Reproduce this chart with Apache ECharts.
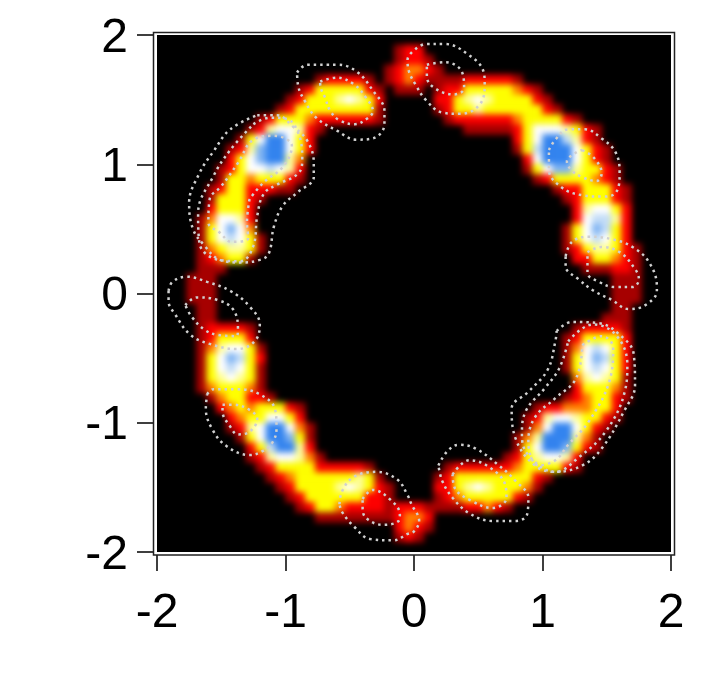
<!DOCTYPE html>
<html>
<head>
<meta charset="utf-8">
<script src="https://cdn.jsdelivr.net/npm/echarts@6/dist/echarts.min.js"></script>
<style>
html,body{margin:0;padding:0;background:#fff;}
#main{width:722px;height:697px;}
</style>
</head>
<body>
<div id="main"></div>
<script>
// density levels, top row first (0 black ... 9 blue)
var densityRows = [
"00000000000000000000000000 00000000000000000000000000",
"00000000000000000000000012 20000000000000000000000000",
"00000000000000000000000012 21000000000000000000000000",
"00000000000000000000000123 32100000000000000000000000",
"00000000000000001222210123 21111222221000000000000000",
"00000000000000124444421011 10122444443210000000000000",
"00000000000001244456542000 00224565444421000000000000",
"00000000000012444444441000 00124454444442100000000000",
"00000000001244432222221000 00012222223444421000000000",
"00000000012566521000000000 00000111112466654210000000",
"00000000146996420000000000 00000000002469975210000000",
"00000001258996420000000000 00000000001479996421000000",
"00000002468995300000000000 00000000000269996421000000",
"00000012466765200000000000 00000000000146885442100000",
"00000014434442100000000000 00000000000012444432100000",
"00000124422211000000000000 00000000000000122444210000",
"00000144421000000000000000 00000000000000012444210000",
"00000244420000000000000000 00000000000000002566420000",
"00001366520000000000000000 00000000000000002677520000",
"00001468630000000000000000 00000000000000014687420000",
"00001467641000000000000000 00000000000000014676420000",
"00001345541000000000000000 00000000000000012455421000",
"00001234410000000000000000 00000000000000002244321000",
"00001110000000000000000000 00000000000000000111221000",
"00011100000000000000000000 00000000000000000000111000",
"00011100000000000000000000 00000000000000000000111000",
"00011100000000000000000000 00000000000000000000111000",
"00001100000000000000000000 00000000000000000000110000",
"00001100000000000000000000 00000000000000000001110000",
"00001222210000000000000000 00000000000000001222210000",
"00001244420000000000000000 00000000000000012444420000",
"00001356641000000000000000 00000000000000013676420000",
"00001468742000000000000000 00000000000000014687420000",
"00001467641000000000000000 00000000000000014676420000",
"00001456541000000000000000 00000000000000003565410000",
"00001344431000000000000000 00000000000000002444310000",
"00000134422100000000000000 00000000000000012344210000",
"00000023434442100000000000 00000000000012233344200000",
"00000002344664200000000000 00000000000125665442100000",
"00000001256996310000000000 00000000000136996421000000",
"00000000146998410000000000 00000000001359995310000000",
"00000000024799520000000000 00000000001469984210000000",
"00000000012566531000000000 00000000012456652000000000",
"00000000001244442222210000 00012222223444421000000000",
"00000000000123444444541000 00124444444421000000000000",
"00000000000012444456542100 00224565444310000000000000",
"00000000000001244444422100 00123444442100000000000000",
"00000000000000124432222122 21111223210000000000000000",
"00000000000000001111111123 32000000000000000000000000",
"00000000000000000000000023 21000000000000000000000000",
"00000000000000000000000012 10000000000000000000000000",
"00000000000000000000000000 00000000000000000000000000"
];
var levelColors = ['#000000','#a80000','#ff0000','#ff8000','#ffff00','#ffff99','#ffffff','#c4ddf7','#80b4f3','#3384f0'];

// dotted contour loops, in data units
var topLeftOuter = [[-.91,1.71],[-.83,1.77],[-.60,1.77],[-.45,1.72],[-.32,1.57],[-.23,1.41],[-.23,1.31],[-.32,1.20],[-.45,1.19],[-.60,1.26],[-.76,1.36],[-.85,1.49],[-.90,1.60]];
var topLeftInner = [[-.73,1.64],[-.60,1.67],[-.47,1.62],[-.37,1.51],[-.32,1.41],[-.37,1.35],[-.46,1.31],[-.58,1.34],[-.65,1.41],[-.69,1.51],[-.73,1.62]];
var leftOuter = [[-1.22,1.38],[-1.07,1.38],[-.94,1.29],[-.83,1.18],[-.78,1.01],[-.78,.90],[-.91,.78],[-1.02,.68],[-1.09,.52],[-1.13,.31],[-1.20,.26],[-1.35,.24],[-1.51,.26],[-1.63,.37],[-1.72,.50],[-1.75,.70],[-1.67,.93],[-1.56,1.10],[-1.43,1.27]];
var leftMiddle = [[-1.25,1.31],[-1.12,1.36],[-.99,1.35],[-.90,1.24],[-.87,1.04],[-.90,.93],[-1.07,.84],[-1.17,.77],[-1.22,.60],[-1.25,.37],[-1.35,.25],[-1.52,.26],[-1.67,.39],[-1.68,.62],[-1.56,.91],[-1.43,1.11]];
var leftInner = [[-1.28,.73],[-1.30,.55],[-1.29,.43],[-1.42,.40],[-1.51,.47],[-1.60,.55],[-1.59,.73],[-1.50,.83],[-1.37,1.01],[-1.25,1.19],[-1.09,1.22],[-.95,1.14],[-1.02,.98],[-1.17,.86]];
var topOuter = [[.01,1.89],[.09,1.93],[.24,1.93],[.42,1.85],[.54,1.72],[.55,1.62],[.51,1.46],[.36,1.39],[.22,1.40],[.09,1.50],[.01,1.62],[-.04,1.72],[-.05,1.81]];
var topInner = [[.10,1.77],[.24,1.79],[.37,1.72],[.39,1.59],[.31,1.54],[.16,1.59],[.10,1.68]];
var upperRightOuter = [[1.05,1.11],[1.10,1.19],[1.20,1.27],[1.33,1.27],[1.46,1.20],[1.57,1.09],[1.60,.93],[1.57,.78],[1.46,.75],[1.31,.76],[1.15,.82],[1.05,.96]];
var upperRightInner = [[1.31,1.11],[1.40,1.05],[1.46,.93],[1.42,.87],[1.31,.90],[1.23,.95],[1.19,1.02],[1.26,1.09]];
var rightOuter = [[1.18,.29],[1.23,.40],[1.36,.44],[1.54,.42],[1.70,.36],[1.83,.24],[1.89,.05],[1.89,.02],[1.80,-.09],[1.67,-.12],[1.54,-.05],[1.40,.02],[1.28,.11],[1.18,.21]];
var rightInner = [[1.35,.32],[1.46,.36],[1.60,.32],[1.72,.19],[1.75,.11],[1.70,.05],[1.56,.05],[1.44,.09],[1.35,.16]];
var farLeftOuter = [[-1.91,.02],[-1.88,.09],[-1.77,.13],[-1.61,.09],[-1.43,.02],[-1.28,-.10],[-1.20,-.24],[-1.24,-.37],[-1.38,-.43],[-1.59,-.39],[-1.74,-.32],[-1.86,-.16],[-1.91,-.06]];
var farLeftInner = [[-1.78,-.09],[-1.69,-.03],[-1.53,-.05],[-1.41,-.12],[-1.37,-.27],[-1.38,-.33],[-1.53,-.32],[-1.63,-.28],[-1.73,-.18]];
var lowerLeftOuter = [[-1.61,-.78],[-1.56,-.74],[-1.38,-.74],[-1.20,-.78],[-1.08,-.90],[-1.07,-1.04],[-1.10,-1.15],[-1.18,-1.22],[-1.28,-1.25],[-1.46,-1.18],[-1.57,-1.05],[-1.62,-.89]];
var lowerLeftInner = [[-1.49,-.86],[-1.41,-.86],[-1.28,-.90],[-1.22,-.97],[-1.28,-1.07],[-1.37,-1.09],[-1.43,-1.03],[-1.49,-.91]];
var bottomOuter = [[-.58,-1.63],[-.56,-1.53],[-.47,-1.42],[-.29,-1.38],[-.13,-1.44],[-.05,-1.56],[-.02,-1.63],[.04,-1.76],[0,-1.84],[-.05,-1.86],[-.16,-1.91],[-.34,-1.90],[-.47,-1.80],[-.56,-1.69]];
var bottomInner = [[-.40,-1.59],[-.32,-1.52],[-.19,-1.59],[-.11,-1.71],[-.12,-1.76],[-.24,-1.79],[-.37,-1.74],[-.40,-1.66]];
var lowerRightOuter = [[1.11,-.29],[1.23,-.22],[1.44,-.23],[1.59,-.31],[1.71,-.47],[1.72,-.71],[1.64,-.90],[1.46,-1.20],[1.31,-1.33],[1.10,-1.38],[.94,-1.33],[.79,-1.12],[.76,-.89],[.89,-.76],[1.04,-.59],[1.10,-.37]];
var lowerRightMiddle = [[1.20,-.37],[1.39,-.24],[1.57,-.32],[1.66,-.55],[1.64,-.76],[1.49,-1.07],[1.28,-1.27],[1.10,-1.38],[.89,-1.25],[.84,-1.09],[.87,-.91],[1.02,-.73],[1.13,-.58]];
var lowerRightInner = [[1.31,-.40],[1.46,-.33],[1.55,-.42],[1.52,-.68],[1.36,-.99],[1.20,-1.17],[1.10,-1.29],[.97,-1.33],[.89,-1.15],[.94,-.96],[1.10,-.81],[1.26,-.66]];
var bottomRightOuter = [[.19,-1.33],[.26,-1.22],[.35,-1.17],[.48,-1.20],[.66,-1.33],[.79,-1.45],[.89,-1.58],[.88,-1.71],[.79,-1.76],[.61,-1.76],[.43,-1.70],[.30,-1.58],[.22,-1.45]];
var bottomRightInner = [[.30,-1.40],[.43,-1.29],[.58,-1.34],[.71,-1.48],[.72,-1.58],[.61,-1.66],[.44,-1.60],[.32,-1.51]];

var contourLoops = [topLeftOuter,topLeftInner,leftOuter,leftMiddle,leftInner,topOuter,topInner,upperRightOuter,upperRightInner,rightOuter,rightInner,farLeftOuter,farLeftInner,lowerLeftOuter,lowerLeftInner,bottomOuter,bottomInner,lowerRightOuter,lowerRightMiddle,lowerRightInner,bottomRightOuter,bottomRightInner];

var rows = densityRows.map(function(r){ return r.replace(' ',''); });
var cellIndex = rows[0].split('').map(function(d,i){ return i; });
var rowIndex = rows.map(function(d,i){ return i; });
var heatData = [];
rows.forEach(function(r,j){
    r.split('').forEach(function(ch,i){
        if(ch!='0') heatData.push([i,j,+ch]);
    });
});

var series = [{
    type:'heatmap',
    xAxisIndex:0,
    yAxisIndex:0,
    data:heatData,
    progressive:0,
    animation:false,
    emphasis:{disabled:true}
}];
contourLoops.forEach(function(loop){
    series.push({
        type:'line',
        xAxisIndex:1,
        yAxisIndex:1,
        data:loop.concat([loop[0]]),
        smooth:0.4,
        symbol:'none',
        silent:true,
        animation:false,
        zlevel:1,
        lineStyle:{color:'#d0d0d0',width:2.5,type:[2.5,4]}
    });
});

var labelFont = {color:'#000',fontFamily:'"Liberation Sans",Arial,sans-serif',fontSize:48};
var chart = echarts.init(document.getElementById('main'),null,{renderer:'canvas'});
chart.setOption({
    backgroundColor:'#fff',
    animation:false,
    grid:{left:157,top:35,width:514,height:517,show:false},
    visualMap:{show:false,min:0,max:9,seriesIndex:0,dimension:2,type:'continuous',inRange:{color:levelColors}},
    xAxis:[
        {type:'category',data:cellIndex,show:false},
        {type:'value',min:-2,max:2,interval:1,position:'bottom',zlevel:1,
         axisLine:{show:false},splitLine:{show:false},
         axisTick:{show:true,length:19,lineStyle:{color:'#000',width:1.5}},
         axisLabel:Object.assign({margin:38,showMinLabel:true,showMaxLabel:true},labelFont)}
    ],
    yAxis:[
        {type:'category',data:rowIndex,inverse:true,show:false},
        {type:'value',min:-2,max:2,interval:1,position:'left',zlevel:1,
         axisLine:{show:false},splitLine:{show:false},
         axisTick:{show:true,length:20,lineStyle:{color:'#000',width:1.5}},
         axisLabel:Object.assign({margin:29,verticalAlign:'top',lineHeight:7,showMinLabel:true,showMaxLabel:true},labelFont)}
    ],
    graphic:[
        // backing for the heat layer, wider than the plot so the soft edge stays out of sight
        {type:'rect',zlevel:0,z:-1,silent:true,shape:{x:130,y:10,width:570,height:570},style:{fill:'#000'}},
        {type:'rect',zlevel:1,z:100,silent:true,shape:{x:155.5,y:33.5,width:517,height:520},style:{fill:null,stroke:'#fff',lineWidth:3}},
        {type:'rect',zlevel:1,z:101,silent:true,shape:{x:153.5,y:32.5,width:521,height:522.5},style:{fill:null,stroke:'#222',lineWidth:1.5}}
    ],
    series:series
});

// soften the cell edges of the density layer, it is a smooth image in the original
var heatCanvas = document.querySelectorAll('#main canvas')[0];
heatCanvas.style.filter = 'blur(3.2px)';
heatCanvas.style.clipPath = 'inset(35px 51px 145px 157px)';
</script>
</body>
</html>
